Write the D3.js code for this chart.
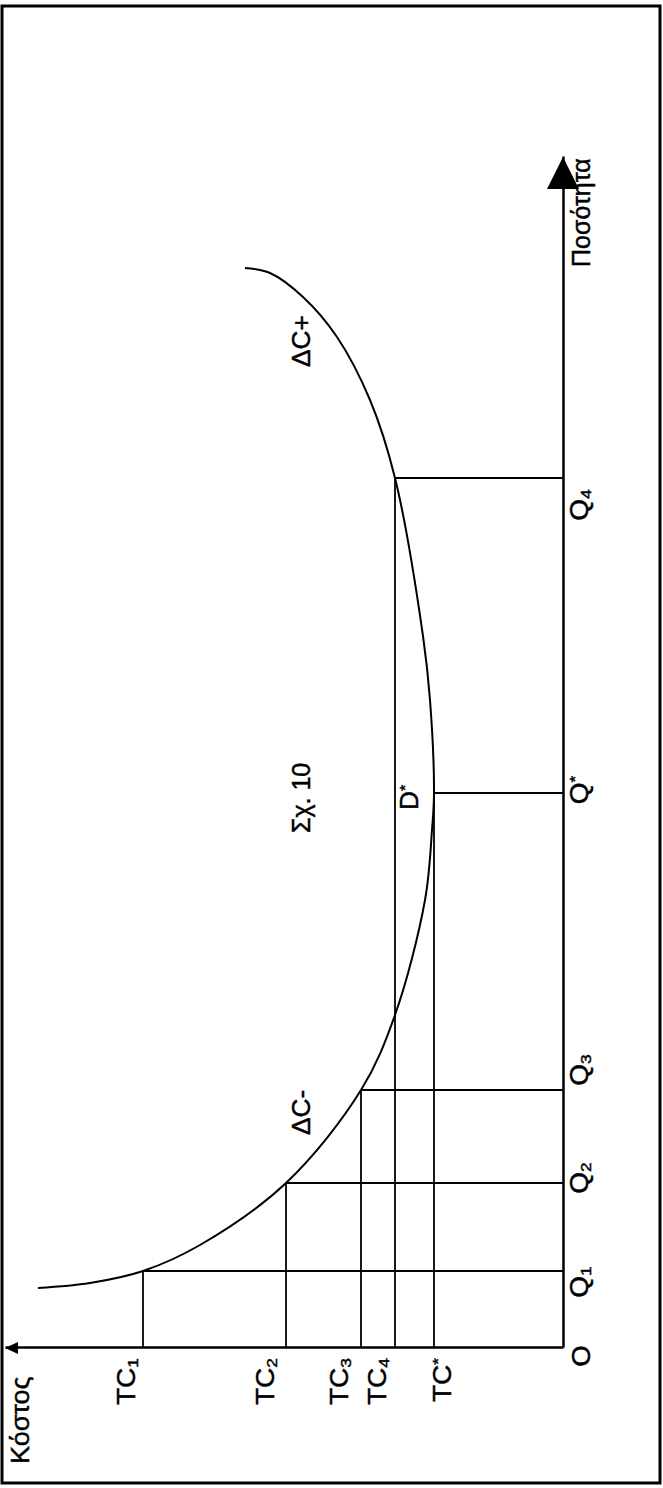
<!DOCTYPE html>
<html><head><meta charset="utf-8">
<script src="https://cdn.jsdelivr.net/npm/d3@7"></script>
<style>body{margin:0;background:#fff} svg text{font-family:"Liberation Sans",Arial,sans-serif;fill:#000;stroke:#000;stroke-width:0.45px}</style>
</head><body><svg id="c" width="663" height="1488"></svg>
<script>
// ---- data (quantity, cost in chart units) ----
const curveQ = [6.0, 6.5, 7.7, 10.3, 16.5, 25.8, 33.3, 44.8, 51.8, 55.5, 64.8, 71.2, 87.0, 94.8, 101.1, 105.1, 107.5, 108.0];
const curveC = [52.5, 47.3, 42.0, 36.3, 27.7, 20.2, 16.8, 13.8, 13.1, 12.9, 13.3, 14.0, 16.8, 19.3, 22.6, 26.0, 29.3, 31.8];
const qNames = ["1", "2", "3", "*", "4"];
const qValues = [7.7, 16.5, 25.8, 55.5, 87.0];
const tcNames = ["1", "2", "3", "4", "*"];
const tcValues = [42.0, 27.7, 20.2, 16.8, 12.9];
const qMax = 119.1, cMax = 55.8;

const W = 663, H = 1488;
const svg = d3.select('#c');
svg.append('rect').attr('x', 2).attr('y', 6).attr('width', 658).attr('height', 1477)
  .attr('fill', 'none').attr('stroke', '#000').attr('stroke-width', 3);

// chart drawn in its natural orientation, then rotated 90deg CCW
const g = svg.append('g').attr('transform', `translate(0,${H}) rotate(-90)`);
const x = d3.scaleLinear().domain([0, qMax]).range([140, 1331]);
const y = d3.scaleLinear().domain([0, cMax]).range([563, 5]);

// axes (domain lines only)
g.append('g').attr('transform', `translate(0,${y(0)})`)
  .call(d3.axisBottom(x).tickValues([]).tickSizeOuter(0));
g.append('g').attr('transform', `translate(${x(0)},0)`)
  .call(d3.axisLeft(y).tickValues([]).tickSizeOuter(0));
g.selectAll('.domain').attr('stroke', '#000').attr('stroke-width', 2.5);

// arrowheads
g.append('path').attr('d', `M${x(qMax)},${y(0)} L${x(qMax) - 32},${y(0) - 16} L${x(qMax) - 32},${y(0) + 16} Z`).attr('fill', '#000');
g.append('path').attr('d', `M${x(0)},${y(cMax)} L${x(0) - 6},${y(cMax) + 13} L${x(0) + 6},${y(cMax) + 13} Z`).attr('fill', '#000');

// guide lines
const tcForQ = [0, 1, 2, 4, 3];
qValues.forEach((q, i) => {
  const c = tcValues[tcForQ[i]];
  g.append('line').attr('x1', x(q)).attr('x2', x(q)).attr('y1', y(0)).attr('y2', y(c))
    .attr('stroke', '#000').attr('stroke-width', 1.8);
  g.append('line').attr('x1', x(0)).attr('x2', x(q)).attr('y1', y(c)).attr('y2', y(c))
    .attr('stroke', '#000').attr('stroke-width', 1.8);
});

// curve
const pts = curveQ.map((q, i) => [q, curveC[i]]);
g.append('path').datum(pts)
  .attr('d', d3.line().x(d => x(d[0])).y(d => y(d[1])).curve(d3.curveCatmullRom.alpha(0.5)))
  .attr('fill', 'none').attr('stroke', '#000').attr('stroke-width', 2);

// labels
const FS = 25;
function label(px, py, main, sub, anchor, stretch) {
  const t = g.append('text').attr('text-anchor', anchor || 'start')
    .attr('font-size', FS)
    .attr('transform', `translate(${px},${py}) scale(${stretch || 1},1)`);
  t.append('tspan').text(main);
  if (sub) {
    if (sub === '*') t.append('tspan').attr('font-size', FS * 0.62).attr('dy', -8).text('*');
    else t.append('tspan').attr('font-size', FS * 0.62).attr('dy', 3).text(sub);
  }
  return t;
}
const tcNudge = [-8, -12, -13, -9, 17];
tcValues.forEach((c, i) => {
  label(1488 - 1358, y(c) + tcNudge[i], 'TC', tcNames[i], 'end', 1.12);
});
const qNudge = [-11, 5, 20, 3, -27];
qValues.forEach((q, i) => {
  label(x(q) + qNudge[i], 588, 'Q', qNames[i], 'middle', 1.12);
});
label(x(0) - 8, 590, 'O', null, 'middle', 1.1);
label(1221, 590, 'Ποσότητα', null, 'start', 1.0);
label(24, 29, 'Κόστος', null, 'start', 1.08);
label(655, 310, 'Σχ. 10', null, 'start', 1.0);
label(1121, 310, 'ΔC+', null, 'start', 1.05);
label(353, 310, 'ΔC-', null, 'start', 1.05);
label(678, 418, 'D', '*', 'start', 1.05);
</script>
</body></html>
